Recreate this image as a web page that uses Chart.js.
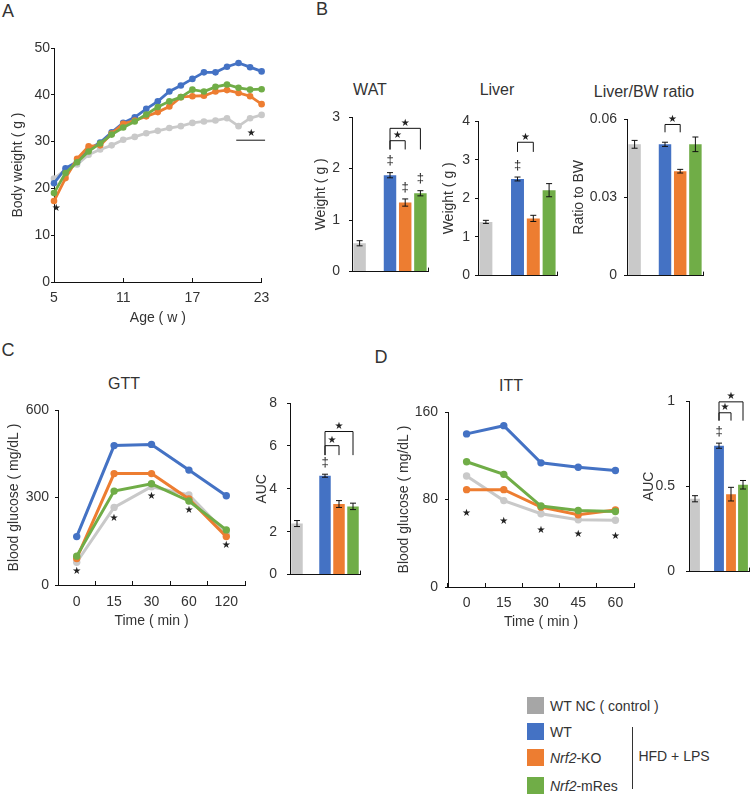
<!DOCTYPE html>
<html>
<head>
<meta charset="utf-8">
<script src="https://cdn.jsdelivr.net/npm/chart.js@4.4.1/dist/chart.umd.min.js"></script>
<style>
  body { margin: 0; width: 750px; height: 795px; overflow: hidden; background: #fff; position: relative;
         font-family: 'Liberation Sans', Arial, sans-serif; color: #333; }
  canvas { position: absolute; }
  .t { position: absolute; line-height: 1; white-space: nowrap; transform: translate(-50%, -50%); }
  .p { font-size: 18px; }
  .h { font-size: 16px; }
  .lg { position: absolute; left: 527px; height: 17px; display: flex; align-items: center; font-size: 14px; white-space: nowrap; }
  .sw { width: 17px; height: 17px; margin-right: 6px; }
</style>
</head>
<body>

<div class="t p" style="left:8px;top:11px">A</div>
<div class="t p" style="left:322px;top:9px">B</div>
<div class="t p" style="left:8px;top:350px">C</div>
<div class="t p" style="left:381px;top:357px">D</div>

<div class="t h" style="left:370px;top:90px">WAT</div>
<div class="t h" style="left:497px;top:90px">Liver</div>
<div class="t h" style="left:644px;top:92px">Liver/BW ratio</div>
<div class="t h" style="left:124px;top:384px">GTT</div>
<div class="t h" style="left:511px;top:386px">ITT</div>

<canvas id="bw"></canvas>
<canvas id="wat"></canvas>
<canvas id="liver"></canvas>
<canvas id="ratio"></canvas>
<canvas id="gtt"></canvas>
<canvas id="gttAuc"></canvas>
<canvas id="itt"></canvas>
<canvas id="ittAuc"></canvas>

<div class="lg" style="top:697px"><span class="sw" style="background:#a6a6a6"></span>WT NC ( control )</div>
<div class="lg" style="top:723px"><span class="sw" style="background:#4472c4"></span>WT</div>
<div class="lg" style="top:749px"><span class="sw" style="background:#ed7d31"></span><em>Nrf2</em>-KO</div>
<div class="lg" style="top:777px"><span class="sw" style="background:#70ad47"></span><em>Nrf2</em>-mRes</div>
<div style="position:absolute;left:632px;top:727px;width:1px;height:62px;background:#333"></div>
<div class="t" style="left:674px;top:756px;font-size:14px">HFD + LPS</div>

<script>
// ---------------- data ----------------
// body weight, A
const weeks  = [5, 6, 7, 8, 9, 10, 11, 12, 13, 14, 15, 16, 17, 18, 19, 20, 21, 22, 23];
const bwNC   = [22.1, 24.0, 25.1, 27.2, 28.3, 29.2, 30.4, 31.0, 31.8, 32.3, 32.9, 33.3, 34.0, 34.3, 34.5, 35.0, 33.3, 35.0, 35.7];
const bwWT   = [21.1, 24.3, 25.7, 28.3, 29.8, 32.0, 34.0, 35.2, 37.0, 38.6, 40.7, 42.0, 43.4, 44.8, 44.8, 46.0, 46.8, 45.9, 45.0];
const bwKO   = [17.3, 22.2, 26.3, 29.0, 29.2, 31.7, 33.8, 34.5, 35.4, 36.3, 37.5, 39.5, 39.7, 39.8, 40.7, 41.0, 40.4, 39.7, 38.0];
const bwRes  = [19.0, 23.3, 25.6, 27.9, 29.6, 31.5, 33.0, 34.3, 35.8, 37.4, 38.6, 39.5, 41.1, 40.7, 41.7, 42.2, 41.5, 41.1, 41.2];
const bwStars = [{x: 5.2, y: 15.7}, {x: 22.1, y: 31.8}];
const bwSigLine = {x1: 20.8, x2: 23.3, y: 30.3};

// organ weights, B  (order: NC, gap, WT, KO, mRes)
const groups   = ['WT NC (control)', '', 'WT', 'Nrf2-KO', 'Nrf2-mRes'];
const watMean  = [0.55, null, 1.87, 1.34, 1.52];
const watSem   = [0.05, null, 0.05, 0.07, 0.05];
const liverMean = [1.39, null, 2.50, 1.48, 2.21];
const liverSem  = [0.04, null, 0.05, 0.08, 0.17];
const ratioMean = [0.0503, null, 0.0503, 0.0400, 0.0503];
const ratioSem  = [0.0015, null, 0.0008, 0.0007, 0.0028];

// GTT, C
const gttTimes = ['0', '15', '30', '60', '120'];
const gttNC  = [78, 266, 337, 309, 177];
const gttWT  = [166, 478, 482, 394, 306];
const gttKO  = [91, 382, 382, 295, 166];
const gttRes = [99, 322, 347, 288, 189];
const gttStars = [46, 229, 305, 255, 137];
const gttAucMean = [2.38, null, 4.61, 3.29, 3.18];
const gttAucSem  = [0.14, null, 0.07, 0.16, 0.15];

// ITT, D
const ittTimes = ['0', '15', '30', '45', '60'];
const ittNC  = [101.5, 79, 67, 61.5, 61];
const ittWT  = [140, 147.5, 113.5, 109.5, 106.5];
const ittKO  = [89, 89, 73, 66, 70.5];
const ittRes = [114.5, 103, 74, 70, 69];
const ittStars = [67, 60, 52, 48, 46.5];
const ittAucMean = [0.427, null, 0.738, 0.454, 0.509];
const ittAucSem  = [0.018, null, 0.015, 0.040, 0.025];

// ---------------- look ----------------
Chart.defaults.font.family = "'Liberation Sans', Arial, sans-serif";
Chart.defaults.font.size = 14;
Chart.defaults.color = '#333';
Chart.defaults.animation = false;
Chart.defaults.plugins.legend.display = false;
Chart.defaults.plugins.tooltip.enabled = false;

const C = {nc: '#c9c9c9', wt: '#4472c4', ko: '#ed7d31', res: '#70ad47'};
const barColors = [C.nc, C.nc, C.wt, C.ko, C.res];

// error bars, daggers, brackets and stars
const extras = {
  id: 'extras',
  afterDatasetsDraw(chart, args, o) {
    const {ctx} = chart, xs = chart.scales.x, ys = chart.scales.y;
    ctx.save();
    ctx.strokeStyle = '#111';
    ctx.fillStyle = '#222';
    ctx.lineWidth = 1;
    ctx.textAlign = 'center';
    ctx.textBaseline = 'middle';
    chart.data.datasets.forEach((ds, di) => {
      if (!ds.sem) return;
      chart.getDatasetMeta(di).data.forEach((bar, i) => {
        const v = ds.data[i];
        if (v == null) return;
        const hi = ys.getPixelForValue(v + ds.sem[i]), lo = ys.getPixelForValue(v - ds.sem[i]);
        ctx.beginPath();
        ctx.moveTo(bar.x, hi); ctx.lineTo(bar.x, lo);
        ctx.moveTo(bar.x - 3, hi); ctx.lineTo(bar.x + 3, hi);
        ctx.moveTo(bar.x - 3, lo); ctx.lineTo(bar.x + 3, lo);
        ctx.stroke();
        if ((o.dagger || []).includes(i)) {
          ctx.font = "13px 'Liberation Sans', Arial";
          ctx.fillText('‡', bar.x, hi - 12);
        }
      });
    });
    ctx.font = "10px 'DejaVu Sans'";
    (o.brackets || []).forEach(b => {
      const x1 = xs.getPixelForValue(b.a), x2 = xs.getPixelForValue(b.b);
      const y = ys.getPixelForValue(b.y), yd = ys.getPixelForValue(b.drop);
      ctx.beginPath();
      ctx.moveTo(x1, yd); ctx.lineTo(x1, y); ctx.lineTo(x2, y); ctx.lineTo(x2, yd);
      ctx.stroke();
      ctx.fillText('★', (x1 + x2) / 2, y - 5);
    });
    (o.stars || []).forEach(s => {
      ctx.fillText('★', xs.getPixelForValue(s.x), ys.getPixelForValue(s.y));
    });
    (o.lines || []).forEach(l => {
      const y = ys.getPixelForValue(l.y);
      ctx.beginPath();
      ctx.moveTo(xs.getPixelForValue(l.x1), y); ctx.lineTo(xs.getPixelForValue(l.x2), y);
      ctx.stroke();
    });
    ctx.restore();
  }
};

// place a canvas so that its chart area sits on the given box
function mount(id, area, yTitleX, xTitleY) {
  const cv = document.getElementById(id);
  const x0 = Math.round(yTitleX - 8), y0 = area.t - 20;
  const x1 = area.r + 12, y1 = xTitleY ? Math.round(xTitleY + 8) : area.b + 8;
  cv.width = x1 - x0;
  cv.height = y1 - y0;
  cv.style.left = x0 + 'px';
  cv.style.top = y0 + 'px';
  return {cv, pad: {top: area.t - y0, right: x1 - area.r, left: 0, bottom: 0}, yW: area.l - x0, xH: y1 - area.b};
}

const yAxis = (f, min, max, step, title, pad) => ({
  min, max,
  ticks: {stepSize: step, padding: pad, callback: v => String(v)},
  grid: {drawOnChartArea: false, tickLength: 3, color: '#111'},
  border: {color: '#111'},
  title: {display: true, text: title, padding: 0},
  afterFit: s => { s.width = f.yW; }
});

const line = (data, color, r, w) => ({
  data, borderColor: color, backgroundColor: color, pointBackgroundColor: color,
  pointBorderWidth: 0, pointRadius: r, borderWidth: w, tension: 0, clip: false
});

function lineChart(f, labels, series, yOpt, xOpt, plug) {
  return new Chart(f.cv, {
    type: 'line',
    data: {labels, datasets: series},
    options: {
      responsive: false, devicePixelRatio: 1,
      layout: {padding: f.pad},
      scales: {
        x: Object.assign({
          grid: {drawOnChartArea: false, tickLength: -4, color: '#111'},
          border: {color: '#111'},
          afterFit: s => { s.height = f.xH; }
        }, xOpt),
        y: yOpt
      },
      plugins: {extras: plug}
    },
    plugins: [extras]
  });
}

function barChart(f, mean, sem, yOpt, plug) {
  return new Chart(f.cv, {
    type: 'bar',
    data: {labels: groups, datasets: [{data: mean, sem, backgroundColor: barColors,
      barPercentage: 0.82, categoryPercentage: 1}]},
    options: {
      responsive: false, devicePixelRatio: 1,
      layout: {padding: f.pad},
      scales: {
        x: {
          offset: true,
          ticks: {display: false},
          grid: {offset: true, drawOnChartArea: false, tickLength: -4,
                 color: c => c.tick ? 'rgba(0,0,0,0)' : '#111'},
          border: {color: '#111'},
          afterFit: s => { s.height = f.xH; }
        },
        y: yOpt
      },
      plugins: {extras: plug}
    },
    plugins: [extras]
  });
}

// ---------------- A: body weight ----------------
const fA = mount('bw', {l: 54, t: 48, r: 269, b: 282}, 18, 319);
lineChart(fA, weeks,
  [line(bwRes, C.res, 3.3, 2.8), line(bwKO, C.ko, 3.3, 2.8), line(bwWT, C.wt, 3.3, 2.8), line(bwNC, C.nc, 3.3, 2.8)],
  yAxis(fA, 0, 50, 10, 'Body weight ( g )', 1),
  {type: 'linear', min: 5, max: 23, ticks: {stepSize: 6, padding: 11.6},
   title: {display: true, text: 'Age ( w )', padding: 0}},
  {stars: bwStars, lines: [bwSigLine]});

// ---------------- B: organ weights ----------------
const fW = mount('wat', {l: 352, t: 117, r: 428, b: 281}, 321);
barChart(fW, watMean, watSem, yAxis(fW, 0, 3, 1, 'Weight ( g )', 9),
  {dagger: [2, 3, 4], brackets: [{a: 2, b: 4, y: 2.78, drop: 2.37}, {a: 2, b: 3, y: 2.54, drop: 2.37}]});

const fL = mount('liver', {l: 478, t: 121, r: 557, b: 281}, 449);
barChart(fL, liverMean, liverSem, yAxis(fL, 0, 4, 1, 'Weight ( g )', 5),
  {dagger: [2], brackets: [{a: 2, b: 3, y: 3.45, drop: 3.2}]});

const fR = mount('ratio', {l: 627, t: 119, r: 703, b: 283}, 579);
barChart(fR, ratioMean, ratioSem, yAxis(fR, 0, 0.06, 0.03, 'Ratio to BW', 7),
  {brackets: [{a: 2, b: 3, y: 0.0579, drop: 0.0549}]});

// ---------------- C: GTT ----------------
const fG = mount('gtt', {l: 58, t: 410, r: 245, b: 585}, 14, 622);
lineChart(fG, gttTimes,
  [line(gttRes, C.res, 3.7, 3), line(gttKO, C.ko, 3.7, 3), line(gttWT, C.wt, 3.7, 3), line(gttNC, C.nc, 3.7, 3)],
  yAxis(fG, 0, 600, 300, 'Blood glucose ( mg/dL )', 6),
  {type: 'category', offset: true, ticks: {padding: 12.3},
   grid: {offset: true, drawOnChartArea: false, tickLength: -4, color: '#111'},
   title: {display: true, text: 'Time ( min )', padding: 0}},
  {stars: gttStars.map((v, i) => ({x: i, y: v}))});

const fGa = mount('gttAuc', {l: 290, t: 403, r: 360, b: 585}, 262);
barChart(fGa, gttAucMean, gttAucSem, yAxis(fGa, 0, 8, 2, 'AUC', 10),
  {dagger: [2], brackets: [{a: 2, b: 4, y: 6.67, drop: 5.57}, {a: 2, b: 3, y: 6.01, drop: 5.57}]});

// ---------------- D: ITT ----------------
const fI = mount('itt', {l: 448, t: 412, r: 634, b: 587}, 404, 623);
lineChart(fI, ittTimes,
  [line(ittRes, C.res, 3.7, 3), line(ittKO, C.ko, 3.7, 3), line(ittWT, C.wt, 3.7, 3), line(ittNC, C.nc, 3.7, 3)],
  yAxis(fI, 0, 160, 80, 'Blood glucose ( mg/dL )', 7),
  {type: 'category', offset: true, ticks: {padding: 11.6},
   grid: {offset: true, drawOnChartArea: false, tickLength: -4, color: '#111'},
   title: {display: true, text: 'Time ( min )', padding: 0}},
  {stars: ittStars.map((v, i) => ({x: i, y: v}))});

const fIa = mount('ittAuc', {l: 689, t: 401, r: 749, b: 583}, 649);
barChart(fIa, ittAucMean, ittAucSem, yAxis(fIa, 0, 1, 0.5, 'AUC', 11),
  {dagger: [2], brackets: [{a: 2, b: 4, y: 0.995, drop: 0.885}, {a: 2, b: 3, y: 0.931, drop: 0.885}]});
</script>
</body>
</html>
